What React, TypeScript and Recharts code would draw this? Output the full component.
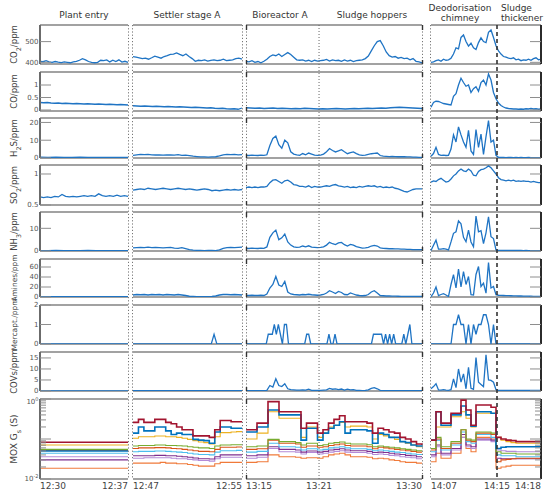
import React from 'react';
import { LineChart, Line, XAxis, YAxis, ReferenceLine } from 'recharts';

// ---- gas sensors, evenly spaced samples per campaign panel ----
const co2Entry = [405, 403, 408, 402, 400, 404, 401, 399, 402, 400, 398, 402, 405, 410, 418, 412, 404, 400, 398, 400, 410, 408, 412, 402, 410, 404, 412, 401, 405, 400];
const co2Settler = [428, 425, 422, 418, 420, 415, 422, 430, 425, 420, 428, 432, 438, 440, 445, 438, 432, 440, 428, 418, 405, 410, 408, 412, 406, 410, 412, 408, 410, 415, 408, 410, 412, 418, 420, 416];
const co2Bio = [405, 402, 408, 400, 404, 398, 405, 415, 428, 436, 432, 440, 428, 438, 447, 438, 425, 412, 410, 412, 406, 410, 404, 410, 406, 408, 410, 414, 406, 412, 408, 410, 405, 412, 406, 410, 404, 408, 410, 412, 418, 430, 455, 480, 500, 505, 480, 450, 432, 425, 428, 420, 424, 418, 420, 412, 418, 405, 402, 398];
const co2Deo = [400, 402, 408, 412, 405, 415, 410, 412, 420, 440, 470, 465, 520, 532, 500, 478, 492, 470, 462, 495, 518, 500, 495, 545, 556, 520, 480, 455, 440, 428, 425, 420, 418, 422, 412, 415, 408, 412, 410, 415, 410, 418, 422, 412, 415];

const coEntry = [0.3, 0.29, 0.3, 0.28, 0.27, 0.28, 0.26, 0.27, 0.26, 0.25, 0.26, 0.25, 0.24, 0.25, 0.24, 0.23, 0.24, 0.23, 0.22, 0.23, 0.22, 0.21, 0.22, 0.21, 0.2];
const coSettler = [0.17, 0.16, 0.15, 0.16, 0.15, 0.14, 0.15, 0.14, 0.13, 0.14, 0.13, 0.12, 0.13, 0.12, 0.11, 0.1, 0.11, 0.1, 0.09, 0.08, 0.09, 0.07, 0.06, 0.07, 0.05, 0.04, 0.05, 0.03, 0.08];
const coBio = [0.09, 0.08, 0.07, 0.08, 0.06, 0.07, 0.08, 0.06, 0.07, 0.06, 0.05, 0.06, 0.05, 0.07, 0.06, 0.05, 0.04, 0.05, 0.04, 0.05, 0.06, 0.05, 0.04, 0.05, 0.06, 0.05, 0.06, 0.07, 0.06, 0.07, 0.08, 0.07, 0.09, 0.1, 0.11, 0.1, 0.09, 0.08, 0.07, 0.06];
const coDeo = [0.11, 0.3, 0.35, 0.34, 0.3, 0.26, 0.24, 0.22, 0.2, 0.55, 0.65, 1.0, 1.27, 1.1, 0.95, 1.0, 0.7, 0.85, 0.93, 0.75, 1.1, 1.2, 1.0, 1.44, 1.2, 0.7, 0.45, 0.28, 0.18, 0.12, 0.08, 0.06, 0.05, 0.04, 0.04, 0.03, 0.04, 0.03, 0.05, 0.04, 0.06, 0.04, 0.05, 0.03, 0.04];

const h2sEntry = [0.5, 0.4, 0.5, 0.4, 0.4, 0.5, 0.4, 0.4, 0.3, 0.4, 0.4, 0.3];
const h2sSettler = [1.5, 1.8, 2, 1.9, 2, 1.8, 1.7, 1.8, 1.6, 1.7, 1.8, 1.6, 1.9, 1.5, 1.6, 1.3, 1, 0.8, 0.6, 0.6, 0.5, 0.6, 0.7, 1.2, 1.8, 2, 1.9, 2, 1.8, 1.9];
const h2sBio = [1.5, 1.4, 1.6, 1.5, 1.4, 1.6, 1.5, 1.8, 7, 11, 12.3, 7.5, 5.5, 10, 8.5, 3.5, 2.2, 1.8, 1.5, 2.5, 1.8, 2.8, 2.2, 1.6, 1.5, 1.6, 2.2, 3.5, 5.3, 4.2, 3.4, 4.0, 4.7, 3.5, 2.4, 3.0, 3.4, 2.5, 1.8, 1.5, 1.6, 2, 2.4, 2.6, 2.8, 1.4, 1.0, 0.9, 0.8, 0.9, 0.8, 0.7, 0.8, 0.7, 0.6, 0.6, 0.5, 0.5, 0.4, 0.4];
const h2sDeo = [1, 2.5, 6, 2, 1.5, 1.6, 1.4, 1.5, 5, 13, 9, 17.5, 13, 9, 6, 15.5, 4, 2, 16, 6, 13.5, 2, 12, 21, 9, 10, 1.5, 0.4, 0.3, 0.3, 0.2, 0.3, 0.3, 0.2, 0.3, 0.2, 0.3, 0.2, 0.2, 0.3, 0.2, 0.2, 0.2, 0.2, 0.2];

const so2Entry = [0.63, 0.62, 0.63, 0.62, 0.64, 0.63, 0.67, 0.64, 0.63, 0.64, 0.63, 0.64, 0.65, 0.64, 0.65, 0.64, 0.68, 0.65, 0.64, 0.65, 0.64, 0.66, 0.64, 0.65, 0.64];
const so2Settler = [0.74, 0.75, 0.76, 0.75, 0.77, 0.76, 0.75, 0.76, 0.77, 0.76, 0.75, 0.76, 0.77, 0.76, 0.75, 0.76, 0.75, 0.74, 0.75, 0.76, 0.75, 0.73, 0.74, 0.73, 0.74, 0.75, 0.74, 0.75, 0.74, 0.75];
const so2Bio = [0.78, 0.79, 0.78, 0.79, 0.78, 0.79, 0.79, 0.8, 0.86, 0.9, 0.91, 0.88, 0.85, 0.89, 0.9, 0.87, 0.83, 0.82, 0.8, 0.8, 0.79, 0.81, 0.78, 0.8, 0.79, 0.79, 0.8, 0.81, 0.8, 0.82, 0.83, 0.81, 0.8, 0.79, 0.8, 0.78, 0.79, 0.78, 0.8, 0.79, 0.8, 0.81, 0.8, 0.81, 0.79, 0.8, 0.78, 0.79, 0.78, 0.79, 0.77, 0.76, 0.74, 0.72, 0.71, 0.73, 0.75, 0.76, 0.76, 0.76];
const so2Deo = [0.87, 0.89, 0.88, 0.91, 0.93, 0.9, 0.87, 0.88, 0.92, 0.97, 1.0, 1.05, 1.08, 1.05, 1.04, 1.08, 1.05, 0.98, 0.97, 1.04, 1.07, 1.08, 1.1, 1.13, 1.1, 1.05, 1.0, 0.94, 0.91, 0.9, 0.89, 0.9, 0.89, 0.9, 0.88, 0.89, 0.88, 0.89, 0.88, 0.88, 0.87, 0.88, 0.87, 0.86, 0.86];

const nh3Entry = [0.2, 0.2, 0.3, 0.2, 0.2, 0.2, 0.3, 0.2, 0.2, 0.2, 0.2, 0.2];
const nh3Settler = [1.4, 1.5, 1.6, 1.5, 1.7, 1.5, 1.6, 1.5, 1.4, 1.5, 1.6, 1.3, 1.2, 1.5, 1.1, 0.6, 0.4, 0.3, 0.3, 0.2, 0.3, 0.3, 0.2, 0.5, 1.2, 1.5, 1.6, 1.5, 1.6, 1.7];
const nh3Bio = [1.2, 1.1, 1.3, 1.2, 1.1, 1.3, 1.2, 1.8, 6, 8, 9.2, 5, 5.8, 7.5, 4, 2.6, 1.8, 1.6, 1.7, 2.2, 1.8, 2.3, 1.7, 1.6, 1.5, 1.6, 1.8, 2.6, 3.8, 3.2, 2.8, 3.6, 3.8, 2.8, 2.2, 2.9, 2.6, 1.9, 1.6, 1.3, 1.4, 1.6, 2.2, 2.5, 2.2, 1.4, 1.2, 1.1, 1.0, 1.0, 0.9, 0.9, 0.8, 0.8, 0.7, 0.7, 0.6, 0.6, 0.6, 0.6];
const nh3Deo = [0.2, 2.5, 4.8, 0.8, 0.8, 1, 0.8, 0.5, 4, 7.8, 8.5, 13.3, 12, 6, 4.1, 9.2, 4, 1.9, 15.4, 8.5, 9, 3.3, 8, 15.1, 6.3, 5.5, 0.5, 0.3, 0.3, 0.3, 0.3, 0.3, 0.3, 0.3, 0.3, 0.3, 0.3, 0.2, 0.3, 0.2, 0.2, 0.2, 0.2, 0.2, 0.2];

const aminesEntry = [0.5, 0.5, 0.6, 0.5, 0.5, 0.5, 0.6, 0.5, 0.5, 0.5, 0.5, 0.5];
const aminesSettler = [4, 5, 4.5, 5, 4, 5, 4.5, 5, 4, 5, 4.5, 4, 5, 4, 3, 1.5, 1, 0.5, 0.5, 0.5, 0.5, 1, 2, 4, 5, 5, 4.5, 5, 4.5, 4];
const aminesBio = [3, 3, 3.5, 3, 3, 3.5, 3, 6, 18, 25, 41, 24, 21, 31, 10, 6, 5, 4.5, 4, 5, 4.5, 5.5, 4.5, 4, 3.5, 4, 5, 8, 12.6, 10, 7, 11, 9, 5, 4.5, 8, 6, 4, 3, 2.5, 3, 5, 10, 12.6, 8, 3, 2.5, 2, 2, 1.8, 1.6, 1.5, 1.4, 1.3, 1.2, 1.1, 1.0, 1.0, 1.0, 1.0];
const aminesDeo = [0.6, 8, 20, 2.6, 5, 6.6, 4, 1, 25, 44.6, 18, 56, 20, 51, 25, 41, 4.6, 4, 45, 61, 21, 27.6, 7.7, 69, 18, 21, 4.6, 3.5, 3.3, 3, 2.8, 2.6, 2.5, 2.4, 2.2, 2, 2, 1.9, 1.8, 1.6, 1.5, 1.4, 1.3, 1.1, 1];

const mercEntry = [0, 0, 0, 0, 0, 0, 0, 0, 0, 0];
const mercSettler = [0, 0, 0, 0, 0, 0, 0, 0, 0, 0, 0, 0, 0, 0, 0, 0, 0, 0, 0, 0, 0, 0, 0, 0, 0, 0, 0, 0, 0, 0.5, 0, 0, 0, 0, 0, 0, 0, 0, 0, 0];
const mercBio = [0, 0, 0, 0, 0, 0, 0, 0, 0, 0, 0, 0.5, 0.5, 0.5, 1, 0.5, 1, 0.5, 0, 1, 1, 0, 0, 0, 0, 0, 0, 0, 0, 0, 0.5, 0.5, 0, 0, 0, 0, 0, 0, 0, 0, 0, 0.5, 0, 0, 0.5, 0, 0, 0, 0, 0, 0, 0, 0, 0, 0, 0, 0, 0, 0, 0, 0, 0, 0, 0.5, 0.5, 0.5, 0.5, 0.5, 0, 0.5, 0, 0.5, 0, 0.5, 0, 0, 0, 0, 0.5, 0, 0.5, 1, 0, 0, 0, 0, 0, 0];
const mercDeo = [0, 0, 0, 0, 0, 0, 0, 0, 0, 1, 1, 1.5, 1, 1, 0, 1, 0, 1, 0.5, 1, 1, 1.5, 1.5, 1, 0, 1, 0, 0, 0, 0, 0, 0, 0, 0, 0, 0, 0, 0, 0, 0, 0, 0, 0, 0, 0];

const covEntry = [0.1, 0.1, 0.1, 0.1, 0.1, 0.1, 0.1, 0.1, 0.1, 0.1];
const covSettler = [0.15, 0.15, 0.15, 0.15, 0.15, 0.15, 0.15, 0.15, 0.15, 0.15];
const covBio = [0.2, 0.2, 0.2, 0.2, 0.2, 0.2, 0.2, 0.3, 2.5, 1.8, 5.6, 2.5, 2.0, 3.3, 1, 0.6, 0.5, 0.4, 0.4, 0.5, 0.4, 0.8, 0.3, 0.3, 0.3, 0.3, 0.4, 0.5, 1.2, 0.8, 1.0, 0.6, 0.9, 0.4, 0.8, 0.5, 0.6, 0.3, 0.3, 0.2, 0.3, 0.5, 1.2, 1.5, 1.0, 0.3, 0.2, 0.2, 0.2, 0.2, 0.2, 0.2, 0.2, 0.2, 0.2, 0.2, 0.2, 0.2, 0.2, 0.2];
const covDeo = [1, 2, 3.3, 0.5, 0.4, 0.6, 0.4, 0.3, 0.6, 5.5, 1.5, 10, 4, 7.8, 1, 10.7, 1.2, 0.8, 15.2, 4, 3, 2, 16.4, 5, 4.8, 4, 0.6, 0.3, 0.3, 0.3, 0.3, 0.3, 0.3, 0.3, 0.3, 0.3, 0.3, 0.3, 0.3, 0.3, 0.3, 0.3, 0.3, 0.3, 0.3];

// ---- MOX sensor conductances (S), step samples, one list per sensor ----
const MOX_COLORS = ['#A2142F', '#0072BD', '#EDB120', '#77AC30', '#D95319', '#4DBEEE', '#7E2F8E', '#B48BD8', '#F07A3A'];
const moxEntry = [
  [0.083, 0.083],
  [0.05, 0.05],
  [0.071, 0.071],
  [0.055, 0.055],
  [0.052, 0.052],
  [0.044, 0.044],
  [0.03, 0.03],
  [0.036, 0.036],
  [0.0185, 0.0185],
];
const moxSettler = [
  [0.26, 0.31, 0.26, 0.26, 0.31, 0.31, 0.26, 0.24, 0.2, 0.17, 0.17, 0.12, 0.12, 0.12, 0.11, 0.17, 0.29, 0.29, 0.27, 0.27, 0.27],
  [0.14, 0.2, 0.16, 0.16, 0.2, 0.2, 0.16, 0.13, 0.14, 0.13, 0.13, 0.098, 0.094, 0.091, 0.078, 0.15, 0.2, 0.2, 0.185, 0.185, 0.185],
  [0.104, 0.114, 0.114, 0.114, 0.119, 0.119, 0.114, 0.114, 0.11, 0.104, 0.098, 0.091, 0.084, 0.081, 0.075, 0.114, 0.144, 0.144, 0.15, 0.153, 0.153],
  [0.067, 0.069, 0.069, 0.069, 0.071, 0.071, 0.069, 0.069, 0.068, 0.067, 0.064, 0.062, 0.06, 0.06, 0.058, 0.067, 0.071, 0.071, 0.072, 0.072, 0.072],
  [0.058, 0.06, 0.06, 0.06, 0.061, 0.061, 0.06, 0.058, 0.057, 0.055, 0.053, 0.051, 0.049, 0.049, 0.048, 0.055, 0.062, 0.062, 0.062, 0.063, 0.063],
  [0.048, 0.049, 0.049, 0.049, 0.05, 0.05, 0.049, 0.048, 0.047, 0.046, 0.044, 0.042, 0.041, 0.041, 0.04, 0.047, 0.051, 0.051, 0.051, 0.052, 0.052],
  [0.038, 0.038, 0.038, 0.038, 0.039, 0.039, 0.038, 0.038, 0.037, 0.036, 0.035, 0.0335, 0.032, 0.032, 0.0316, 0.036, 0.04, 0.04, 0.04, 0.04, 0.04],
  [0.033, 0.033, 0.034, 0.034, 0.034, 0.034, 0.034, 0.033, 0.032, 0.032, 0.031, 0.03, 0.029, 0.029, 0.028, 0.032, 0.035, 0.035, 0.035, 0.035, 0.035],
  [0.025, 0.025, 0.025, 0.025, 0.025, 0.026, 0.025, 0.025, 0.024, 0.024, 0.023, 0.022, 0.021, 0.021, 0.021, 0.024, 0.026, 0.026, 0.026, 0.026, 0.026],
];
const moxBio = [
  [0.17, 0.17, 0.25, 0.25, 0.86, 0.86, 0.48, 0.48, 0.48, 0.48, 0.185, 0.25, 0.25, 0.14, 0.17, 0.25, 0.31, 0.38, 0.27, 0.27, 0.27, 0.27, 0.25, 0.14, 0.185, 0.17, 0.15, 0.14, 0.11, 0.1, 0.086, 0.075, 0.071],
  [0.15, 0.15, 0.2, 0.2, 0.53, 0.53, 0.4, 0.4, 0.4, 0.4, 0.094, 0.185, 0.185, 0.094, 0.14, 0.185, 0.22, 0.27, 0.14, 0.17, 0.17, 0.17, 0.16, 0.078, 0.14, 0.13, 0.11, 0.11, 0.086, 0.081, 0.071, 0.067, 0.064],
  [0.1, 0.1, 0.14, 0.14, 0.48, 0.48, 0.33, 0.33, 0.33, 0.33, 0.11, 0.2, 0.2, 0.11, 0.14, 0.2, 0.22, 0.26, 0.2, 0.21, 0.21, 0.21, 0.2, 0.1, 0.13, 0.12, 0.11, 0.098, 0.086, 0.078, 0.071, 0.064, 0.062],
  [0.064, 0.064, 0.067, 0.067, 0.098, 0.098, 0.086, 0.086, 0.086, 0.081, 0.071, 0.078, 0.078, 0.069, 0.072, 0.078, 0.081, 0.084, 0.078, 0.075, 0.075, 0.075, 0.072, 0.064, 0.067, 0.064, 0.062, 0.06, 0.057, 0.055, 0.053, 0.051, 0.051],
  [0.055, 0.055, 0.057, 0.057, 0.094, 0.094, 0.078, 0.078, 0.078, 0.075, 0.062, 0.067, 0.067, 0.062, 0.064, 0.069, 0.072, 0.075, 0.069, 0.067, 0.067, 0.067, 0.064, 0.057, 0.062, 0.06, 0.057, 0.055, 0.053, 0.051, 0.049, 0.047, 0.047],
  [0.047, 0.047, 0.049, 0.049, 0.078, 0.078, 0.064, 0.064, 0.064, 0.062, 0.053, 0.057, 0.057, 0.053, 0.055, 0.06, 0.062, 0.064, 0.06, 0.057, 0.057, 0.057, 0.055, 0.051, 0.053, 0.051, 0.049, 0.047, 0.046, 0.044, 0.042, 0.041, 0.041],
  [0.038, 0.038, 0.04, 0.04, 0.064, 0.064, 0.055, 0.055, 0.055, 0.053, 0.047, 0.05, 0.05, 0.047, 0.049, 0.053, 0.055, 0.057, 0.053, 0.051, 0.051, 0.051, 0.049, 0.046, 0.047, 0.046, 0.044, 0.042, 0.041, 0.039, 0.038, 0.036, 0.036],
  [0.033, 0.033, 0.035, 0.035, 0.058, 0.058, 0.048, 0.048, 0.048, 0.047, 0.042, 0.046, 0.046, 0.042, 0.044, 0.047, 0.049, 0.051, 0.047, 0.046, 0.046, 0.046, 0.044, 0.041, 0.042, 0.041, 0.039, 0.038, 0.036, 0.035, 0.034, 0.032, 0.032],
  [0.026, 0.026, 0.027, 0.027, 0.04, 0.04, 0.036, 0.036, 0.036, 0.035, 0.033, 0.034, 0.034, 0.033, 0.036, 0.04, 0.042, 0.044, 0.04, 0.036, 0.036, 0.036, 0.035, 0.032, 0.033, 0.032, 0.03, 0.029, 0.027, 0.026, 0.026, 0.025, 0.025],
];
const moxDeo = [
  [0.094, 0.48, 0.25, 0.25, 0.44, 0.44, 0.94, 0.53, 0.22, 0.71, 0.71, 0.71, 0.62, 0.11, 0.1, 0.094, 0.091, 0.086, 0.086, 0.086, 0.086, 0.086, 0.086],
  [0.094, 0.48, 0.22, 0.22, 0.4, 0.4, 0.67, 0.4, 0.21, 0.48, 0.48, 0.48, 0.44, 0.058, 0.062, 0.064, 0.064, 0.064, 0.064, 0.064, 0.064, 0.064, 0.064],
  [0.094, 0.2, 0.2, 0.2, 0.36, 0.36, 0.48, 0.33, 0.2, 0.44, 0.44, 0.44, 0.44, 0.11, 0.094, 0.086, 0.081, 0.078, 0.078, 0.078, 0.078, 0.078, 0.078],
  [0.058, 0.11, 0.064, 0.064, 0.086, 0.086, 0.17, 0.1, 0.094, 0.15, 0.15, 0.15, 0.14, 0.048, 0.044, 0.044, 0.044, 0.042, 0.042, 0.042, 0.042, 0.042, 0.042],
  [0.053, 0.1, 0.058, 0.058, 0.078, 0.078, 0.17, 0.094, 0.086, 0.14, 0.14, 0.14, 0.13, 0.027, 0.03, 0.031, 0.032, 0.033, 0.033, 0.033, 0.033, 0.033, 0.033],
  [0.048, 0.094, 0.053, 0.053, 0.071, 0.071, 0.15, 0.086, 0.078, 0.13, 0.13, 0.13, 0.11, 0.04, 0.038, 0.038, 0.038, 0.036, 0.036, 0.036, 0.036, 0.036, 0.036],
  [0.04, 0.071, 0.044, 0.044, 0.058, 0.058, 0.13, 0.071, 0.064, 0.1, 0.1, 0.1, 0.094, 0.033, 0.032, 0.032, 0.032, 0.032, 0.032, 0.032, 0.032, 0.032, 0.032],
  [0.036, 0.064, 0.04, 0.04, 0.053, 0.053, 0.11, 0.064, 0.058, 0.094, 0.094, 0.094, 0.086, 0.053, 0.051, 0.049, 0.049, 0.048, 0.048, 0.048, 0.048, 0.048, 0.048],
  [0.027, 0.044, 0.033, 0.033, 0.044, 0.044, 0.11, 0.058, 0.048, 0.11, 0.11, 0.11, 0.1, 0.0185, 0.02, 0.021, 0.022, 0.022, 0.022, 0.022, 0.022, 0.022, 0.022],
];

// ---- time axis: tick positions within each panel and their labels ----
const TIME_TICKS = [[0, 1], [0, 1], [0, 0.415, 1], [0, 0.6, 1]];
const TIME_LABELS = [['12:30', '12:37'], ['12:47', '12:55'], ['13:15', '13:21', '13:30'], ['14:07', '14:15', '14:18']];
const MOX_MINOR = [0.02, 0.03, 0.04, 0.05, 0.06, 0.07, 0.08, 0.09, 0.2, 0.3, 0.4, 0.5, 0.6, 0.7, 0.8, 0.9];
const MOX_MAJOR = [0.01, 0.1, 1];

const FONT = 'DejaVu Sans, Verdana, sans-serif';
const BLUE = '#1f74c4';
const FRAME = '#a2a2a2';
const M = 7;

const PANELS = [
  { x: 40, w: 88 },
  { x: 133, w: 109 },
  { x: 246, w: 176 },
  { x: 431, w: 110 },
];

const GAS_ROWS = [
  { top: 25, h: 39, domain: [392, 580], ticks: [400, 500], series: [co2Entry, co2Settler, co2Bio, co2Deo] },
  { top: 72, h: 39, domain: [-0.04, 1.52], ticks: [0, 0.5, 1], series: [coEntry, coSettler, coBio, coDeo] },
  { top: 118, h: 40, domain: [0, 22.5], ticks: [0, 10, 20], series: [h2sEntry, h2sSettler, h2sBio, h2sDeo] },
  { top: 165, h: 40, domain: [0.5, 1.145], ticks: [0.5, 1], series: [so2Entry, so2Settler, so2Bio, so2Deo] },
  { top: 212, h: 39, domain: [0, 17.2], ticks: [0, 10], series: [nh3Entry, nh3Settler, nh3Bio, nh3Deo] },
  { top: 259, h: 38, domain: [0, 76], ticks: [0, 20, 40, 60], series: [aminesEntry, aminesSettler, aminesBio, aminesDeo] },
  { top: 305, h: 39, domain: [0, 2], ticks: [0, 1, 2], series: [mercEntry, mercSettler, mercBio, mercDeo] },
  { top: 352, h: 39, domain: [0, 17.7], ticks: [0, 5, 10, 15], series: [covEntry, covSettler, covBio, covDeo] },
];
const MOX_ROW = { top: 399, h: 80 };
const MOX_PANELS = [moxEntry, moxSettler, moxBio, moxDeo];

const evenly = (vals: number[]) => vals.map((v, i) => ({ t: i / (vals.length - 1), v }));

const moxTable = (list: number[][]) =>
  list[0].map((_, i) => {
    const row: Record<string, number> = { t: i / (list[0].length - 1) };
    list.forEach((s, k) => (row['s' + k] = s[i]));
    return row;
  });

function makeTick(side: 'left' | 'right', label: (v: number) => React.ReactNode, minor?: number[]) {
  return (props: any) => {
    const { x, y, payload } = props;
    const v = payload.value;
    const len = minor && minor.includes(v) ? 6 : 11;
    const dir = side === 'left' ? 1 : -1;
    const txt = side === 'left' ? label(v) : null;
    // the 10^0 label sits just under the top frame in the original
    const shift = minor && v === 1 ? 3 : 0;
    return (
      <g>
        <line x1={x} x2={x + dir * len} y1={y} y2={y} stroke="#8e8e8e" strokeWidth={1} />
        {txt != null && (
          <text x={x - 1.5} y={y + shift} dy="0.35em" textAnchor="end" fontSize={7} fill="#555" fontFamily={FONT}>
            {txt}
          </text>
        )}
      </g>
    );
  };
}

const moxLabel = (v: number) => {
  if (v === 1) return <>10<tspan dy={-3} fontSize={5}>0</tspan></>;
  if (v === 0.01) return <>10<tspan dy={-3} fontSize={5}>-2</tspan></>;
  return null;
};

function TimeTick(props: any) {
  const { x, y, payload } = props;
  const anchor = payload.value === 0 ? 'start' : payload.value === 1 ? 'end' : 'middle';
  return (
    <text x={x} y={y} dy={10} textAnchor={anchor} fontSize={9} fill="#444" fontFamily={FONT}>
      {props.labels[props.index]}
    </text>
  );
}

function GasCell({ row, p }: { row: (typeof GAS_ROWS)[number]; p: number }) {
  const panel = PANELS[p];
  const isLeft = p === 0;
  const isRight = p === 3;
  const axisW = isLeft ? 40 : isRight ? 1 : 0;
  return (
    <div style={{ position: 'absolute', left: panel.x - M - (isLeft ? 40 : 0), top: row.top - M }}>
      <LineChart
        width={panel.w + 2 * M + axisW}
        height={row.h + 2 * M}
        data={evenly(row.series[p])}
        margin={{ top: M, right: M, bottom: M, left: M }}
      >
        <XAxis type="number" dataKey="t" domain={[0, 1]} hide />
        <YAxis
          type="number"
          domain={row.domain}
          allowDataOverflow
          ticks={row.ticks}
          interval={0}
          hide={!isLeft && !isRight}
          orientation={isRight ? 'right' : 'left'}
          width={axisW}
          axisLine={{ stroke: isLeft ? '#6b6b6b' : '#2b2b2b', strokeWidth: 2 }}
          tickLine={false}
          tickSize={0}
          tickMargin={0}
          tick={makeTick(isLeft ? 'left' : 'right', (v) => String(v))}
        />
        <ReferenceLine y={row.domain[1]} stroke={FRAME} strokeWidth={2} />
        <ReferenceLine y={row.domain[0]} stroke={FRAME} strokeWidth={2} />
        <Line type="linear" dataKey="v" stroke={BLUE} strokeWidth={1.3} dot={false} isAnimationActive={false} />
      </LineChart>
    </div>
  );
}

function MoxCell({ p }: { p: number }) {
  const panel = PANELS[p];
  const isLeft = p === 0;
  const isRight = p === 3;
  const axisW = isLeft ? 40 : isRight ? 1 : 0;
  const list = MOX_PANELS[p];
  const order = list.map((_, k) => k).reverse();
  return (
    <div style={{ position: 'absolute', left: panel.x - M - (isLeft ? 40 : 0), top: MOX_ROW.top - M }}>
      <LineChart
        width={panel.w + 2 * M + axisW}
        height={MOX_ROW.h + 2 * M + 14}
        data={moxTable(list)}
        margin={{ top: M, right: M, bottom: M, left: M }}
      >
        <XAxis
          type="number"
          dataKey="t"
          domain={[0, 1]}
          ticks={TIME_TICKS[p]}
          interval={0}
          axisLine={false}
          tickLine={false}
          tickSize={0}
          tickMargin={0}
          height={14}
          tick={<TimeTick labels={TIME_LABELS[p]} />}
        />
        <YAxis
          type="number"
          scale="log"
          domain={[0.01, 1]}
          allowDataOverflow
          ticks={[...MOX_MAJOR, ...MOX_MINOR]}
          interval={0}
          hide={!isLeft && !isRight}
          orientation={isRight ? 'right' : 'left'}
          width={axisW}
          axisLine={{ stroke: isLeft ? '#6b6b6b' : '#2b2b2b', strokeWidth: 2 }}
          tickLine={false}
          tickSize={0}
          tickMargin={0}
          tick={makeTick(isLeft ? 'left' : 'right', moxLabel, MOX_MINOR)}
        />
        <ReferenceLine y={1} stroke={FRAME} strokeWidth={2} />
        <ReferenceLine y={0.01} stroke={FRAME} strokeWidth={2} />
        {order.map((k) => (
          <Line
            key={k}
            type="stepAfter"
            dataKey={'s' + k}
            stroke={MOX_COLORS[k]}
            strokeWidth={k < 2 ? 1.6 : 1.1}
            dot={false}
            isAnimationActive={false}
          />
        ))}
      </LineChart>
    </div>
  );
}

const Y_LABELS: { main: string; sub?: string; tail?: string; size: number }[] = [
  { main: 'CO', sub: '2', tail: '/ppm', size: 8.5 },
  { main: 'CO/ppm', size: 8.5 },
  { main: 'H', sub: '2', tail: 'S/ppm', size: 8.5 },
  { main: 'SO', sub: '2', tail: '/ppm', size: 8.5 },
  { main: 'NH', sub: '3', tail: '/ppm', size: 8.5 },
  { main: 'Amines/ppm', size: 7.5 },
  { main: 'Mercapt./ppm', size: 7.5 },
  { main: 'COVs/ppm', size: 8.5 },
];

function Overlay() {
  const top = 25;
  const bottom = 479;
  const dotted = [128.5, 132.5, 242.5, 246.5, 422.5, 430.5];
  const title = (x: number, y: number, s: string, anchor = 'middle') => (
    <text x={x} y={y} textAnchor={anchor as any} fontSize={9} fill="#333" fontFamily={FONT}>{s}</text>
  );
  const rowsEdges = [...GAS_ROWS.map((r) => [r.top, r.top + r.h]), [MOX_ROW.top, MOX_ROW.top + MOX_ROW.h]];
  const x321 = PANELS[2].x + PANELS[2].w * TIME_TICKS[2][1];
  const x1415 = PANELS[3].x + PANELS[3].w * TIME_TICKS[3][1];
  return (
    <svg width={550} height={499} style={{ position: 'absolute', left: 0, top: 0, pointerEvents: 'none' }}>
      {dotted.map((x) => (
        <line key={x} x1={x} x2={x} y1={top} y2={bottom} stroke="#777" strokeWidth={1} strokeDasharray="1.2 2" />
      ))}
      {/* short solid stubs where the broken axis of the bioreactor panel meets each frame */}
      {rowsEdges.map(([a, b], i) => (
        <g key={i} stroke="#333" strokeWidth={1.4}>
          <line x1={246.5} x2={246.5} y1={a} y2={a + 5} />
          <line x1={246.5} x2={246.5} y1={b - 4} y2={b} />
          <line x1={422.5} x2={422.5} y1={a} y2={a + 5} />
          <line x1={422.5} x2={422.5} y1={b - 4} y2={b} />
        </g>
      ))}
      <line x1={x321} x2={x321} y1={top} y2={bottom} stroke="#666" strokeWidth={1} strokeDasharray="1 2" />
      <line x1={x1415} x2={x1415} y1={top} y2={bottom} stroke="#333" strokeWidth={1.6} strokeDasharray="4 3" />

      {title(84, 18, 'Plant entry')}
      {title(187, 18, 'Settler stage A')}
      {title(280, 18, 'Bioreactor A')}
      {title(372, 18, 'Sludge hoppers')}
      {title(460, 10.5, 'Deodorisation')}
      {title(460, 21, 'chimney')}
      {title(501, 10.5, 'Sludge', 'start')}
      {title(501, 21, 'thickener', 'start')}

      {GAS_ROWS.map((r, i) => {
        const l = Y_LABELS[i];
        const cy = r.top + r.h / 2;
        return (
          <text key={i} transform={`translate(14, ${cy}) rotate(-90)`} textAnchor="middle" dy="0.35em" fontSize={l.size} fill="#444" fontFamily={FONT}>
            {l.main}
            {l.sub && <tspan baselineShift="sub" fontSize={l.size * 0.75}>{l.sub}</tspan>}
            {l.tail && <tspan>{l.tail}</tspan>}
          </text>
        );
      })}
      <text transform={`translate(14, ${MOX_ROW.top + MOX_ROW.h / 2}) rotate(-90)`} textAnchor="middle" dy="0.35em" fontSize={9} fill="#444" fontFamily={FONT}>
        MOX G<tspan baselineShift="sub" fontSize={6.5}>s</tspan><tspan> (S)</tspan>
      </text>
    </svg>
  );
}

export default function App() {
  return (
    <div style={{ position: 'absolute', left: 0, top: 0, width: 550, height: 499, background: '#fff', overflow: 'hidden' }}>
      {GAS_ROWS.map((row, r) => PANELS.map((_, p) => <GasCell key={`${r}-${p}`} row={row} p={p} />))}
      {PANELS.map((_, p) => <MoxCell key={`m-${p}`} p={p} />)}
      <Overlay />
    </div>
  );
}
